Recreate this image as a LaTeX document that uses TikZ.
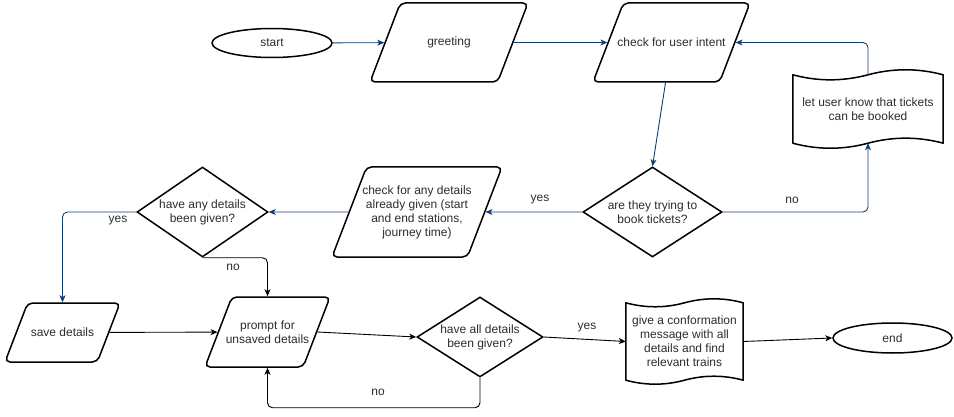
\documentclass[tikz,border=0pt]{standalone}
\usepackage{fontspec}
\setmainfont{Liberation Sans}
\usetikzlibrary{shapes.geometric,arrows.meta,calc}
\definecolor{eblue}{RGB}{16,62,115}
\definecolor{tcol}{RGB}{45,45,45}
\newcommand\tapedraw[3]{%
  \draw[line width=1.5pt,line join=round] (#1.north west)
    .. controls +(#2,#3) and +(-#2,#3) .. (#1.north)
    .. controls +(#2,-#3) and +(-#2,-#3) .. (#1.north east)
    -- (#1.south east)
    .. controls +(-#2,-#3) and +(#2,-#3) .. (#1.south)
    .. controls +(-#2,#3) and +(#2,#3) .. (#1.south west) -- cycle;}
% invisible body of a parallelogram: inner width, height
\newcommand\pbody[2]{\rule{0pt}{#2}\hspace*{#1}}
\begin{document}
\begin{tikzpicture}[x=1pt,y=-1pt,
  font=\fontsize{12}{14}\selectfont,
  box/.style={draw=black,line width=1.5pt,fill=white,inner sep=0pt},
  para/.style={box,trapezium,trapezium left angle=69,trapezium right angle=111,
    rounded corners=5pt},
  dia/.style={box,diamond},
  oval/.style={box,ellipse,text=tcol},
  tapebox/.style={inner sep=0pt,text=tcol,align=center},
  txt/.style={text=tcol,align=center,inner sep=0pt},
  T/.style={label={[txt]center:{#1}}},
  conn/.style={line width=0.9pt,rounded corners=5pt,
    -{Stealth[length=7pt,width=6pt,inset=2pt]}},
  bl/.style={conn,draw=eblue},
  bk/.style={conn,draw=black},
  lab/.style={text=tcol,inner sep=0pt}
]
\useasboundingbox (0,0) rectangle (954,417);

% top row
\node[oval,minimum width=120pt,minimum height=29pt] (start) at (272,43) {start};
\node[para,T={greeting}] (gr) at (449,42.5) {\pbody{97.3pt}{79pt}};
\node[para,T={check for user intent}] (chk) at (671.5,42.5) {\pbody{96.3pt}{79pt}};
\node[tapebox,minimum width=150pt,minimum height=68pt] (t1) at (868,109)
  {let user know that tickets\\can be booked};
\tapedraw{t1}{25}{6.7}

% middle row
\node[dia,minimum width=139pt,minimum height=90pt,T={are they trying to\\book tickets?}] (try) at (652.5,212) {};
\node[para,T={check for any details\\already given (start\\and end stations,\\journey time)}]
  (det) at (417,212) {\pbody{100.9pt}{90pt}};
\node[dia,minimum width=131pt,minimum height=90pt,T={have any details\\been given?}] (any) at (202.5,212) {};

% bottom row
\node[para,T={save details}] (save) at (62.5,332.5) {\pbody{69.7pt}{59pt}};
\node[para,T={prompt for\\unsaved details}] (pr) at (267.5,332) {\pbody{71.3pt}{70pt}};
\node[dia,minimum width=126pt,minimum height=80pt,T={have all details\\been given?}] (all) at (480,337) {};
\node[tapebox,minimum width=117pt,minimum height=77pt] (t2) at (684.5,341.5)
  {give a conformation\\message with all\\details and find\\relevant trains};
\tapedraw{t2}{19.5}{5.3}
\node[oval,minimum width=119pt,minimum height=30pt] (end) at (892.5,338) {end};

% connectors
\draw[bl] (start) -- (gr);
\draw[bl] (gr) -- (chk);
\draw[bl] ([xshift=-6pt]chk.south) -- (try.north);
\draw[bl] (try) -- (det);
\draw[bl] (try.east) -| (t1.south);
\draw[bl] (t1.north) |- (chk.east);
\draw[bl] (det) -- (any);
\draw[bl] (any.west) -| (save.north);
\draw[bk] (any.south) -| (pr.north);
\draw[bk] (save) -- (pr);
\draw[bk] (pr.east) -- (all.west);
\draw[bk] (all.east) -- (t2.west);
\draw[bk] (all.south) -- ++(0,30) -| (pr.south);
\draw[bk] (t2.east) -- (end.west);

% edge labels
\node[lab] (l1) at (540,200) {yes};
\node[lab] (l2) at (792,200) {no};
\node[lab] (l3) at (118,221) {yes};
\node[lab] (l4) at (233,267) {no};
\node[lab] (l5) at (587,328) {yes};
\node[lab] (l6) at (378,392) {no};
\end{tikzpicture}
\end{document}
